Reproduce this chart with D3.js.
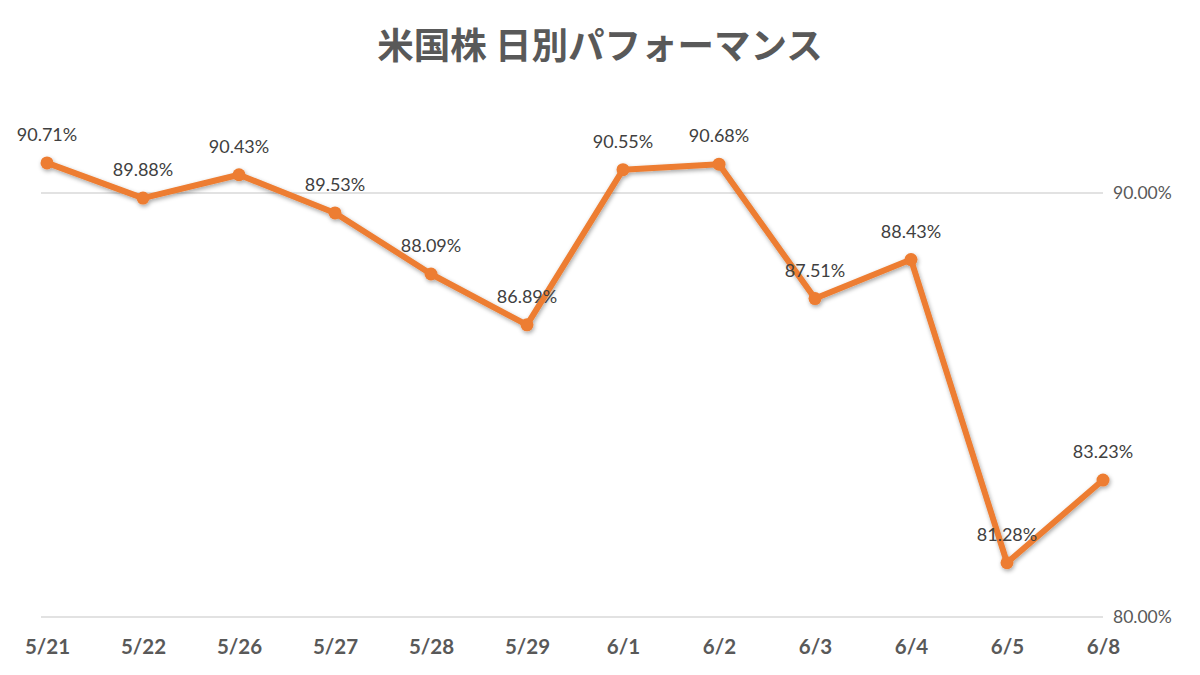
<!DOCTYPE html>
<html>
<head>
<meta charset="utf-8">
<script src="https://cdn.jsdelivr.net/npm/d3@7"></script>
<style>
  body { margin: 0; background: #fff; }
</style>
</head>
<body>
<div id="chart"></div>
<script>
// data
var dates = ["5/21", "5/22", "5/26", "5/27", "5/28", "5/29", "6/1", "6/2", "6/3", "6/4", "6/5", "6/8"];
var values = [90.71, 89.88, 90.43, 89.53, 88.09, 86.89, 90.55, 90.68, 87.51, 88.43, 81.28, 83.23];
var yTicks = [80, 90];

var width = 1200, height = 675;

var svg = d3.select("#chart")
    .append("svg")
    .attr("width", width)
    .attr("height", height);

// soft shadow like the original
var defs = svg.append("defs");
var f = defs.append("filter").attr("id", "shadow")
    .attr("x", "-20%").attr("y", "-20%").attr("width", "140%").attr("height", "140%");
f.append("feDropShadow")
    .attr("dx", 1).attr("dy", 2).attr("stdDeviation", 2)
    .attr("flood-color", "#000").attr("flood-opacity", 0.35);

// title
svg.append("text")
    .attr("x", 600)
    .attr("y", 59)
    .attr("text-anchor", "middle")
    .style("font-family", "'Noto Sans CJK JP', sans-serif")
    .style("font-weight", "bold")
    .style("font-size", "36.5px")
    .style("fill", "#595959")
    .text("米国株 日別パフォーマンス");

var x = d3.scalePoint()
    .domain(dates)
    .range([47, 1103]);

var y = d3.scaleLinear()
    .domain([80, 90])
    .range([617, 193]);

// gridlines
svg.append("g")
    .selectAll("line")
    .data(yTicks)
    .enter()
    .append("line")
    .attr("x1", 41)
    .attr("x2", 1103)
    .attr("y1", function (d) { return y(d); })
    .attr("y2", function (d) { return y(d); })
    .attr("stroke", "#d9d9d9")
    .attr("stroke-width", 1.3);

// right y axis labels
var yAxis = svg.append("g")
    .attr("transform", "translate(1110,0)")
    .call(d3.axisRight(y).tickValues(yTicks).tickSize(0).tickFormat(function (d) { return d3.format(".2f")(d) + "%"; }));
yAxis.select(".domain").remove();
yAxis.selectAll("text")
    .style("font-family", "Lato, 'Open Sans', sans-serif")
    .style("font-size", "17.5px")
    .style("fill", "#595959");

// x axis labels
var xAxis = svg.append("g")
    .attr("transform", "translate(0,636)")
    .call(d3.axisBottom(x).tickSize(0));
xAxis.select(".domain").remove();
xAxis.selectAll("text")
    .style("font-family", "Lato, 'Open Sans', sans-serif")
    .style("font-weight", "bold")
    .style("font-size", "20.5px")
    .style("fill", "#595959");

var line = d3.line()
    .x(function (d, i) { return x(dates[i]); })
    .y(function (d) { return y(d); });

var series = svg.append("g").attr("filter", "url(#shadow)");

series.append("path")
    .datum(values)
    .attr("d", line)
    .attr("fill", "none")
    .attr("stroke", "#ED7D31")
    .attr("stroke-width", 6)
    .attr("stroke-linejoin", "round");

series.selectAll("circle")
    .data(values)
    .enter()
    .append("circle")
    .attr("cx", function (d, i) { return x(dates[i]); })
    .attr("cy", function (d) { return y(d); })
    .attr("r", 6.5)
    .attr("fill", "#ED7D31");

// data labels
svg.append("g")
    .selectAll("text")
    .data(values)
    .enter()
    .append("text")
    .attr("x", function (d, i) { return x(dates[i]); })
    .attr("y", function (d) { return y(d) - 22; })
    .attr("text-anchor", "middle")
    .style("font-family", "Lato, 'Open Sans', sans-serif")
    .style("font-size", "18px")
    .style("fill", "#404040")
    .text(function (d) { return d.toFixed(2) + "%"; });
</script>
</body>
</html>
